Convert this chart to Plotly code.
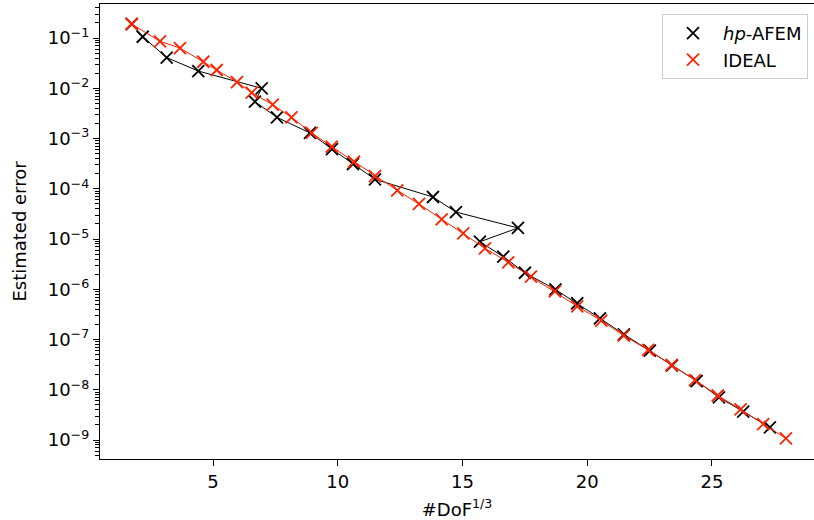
import plotly.graph_objects as go

# ---- data ----
hp_afem_x = [1.74, 2.18, 3.142, 4.409, 6.95, 6.681, 7.563, 8.886, 9.768, 10.609,
             11.491, 13.816, 14.737, 17.222, 15.699, 16.633, 17.503, 18.725, 19.599,
             20.509, 21.471, 22.513, 23.395, 24.385, 25.279, 26.253, 27.323]
hp_afem_err = [0.190, 0.106, 0.0409, 0.0220, 0.00997, 0.00540, 0.00264, 0.00129,
               6.18e-4, 3.11e-4, 1.54e-4, 6.86e-5, 3.44e-5, 1.66e-5, 8.83e-6,
               4.45e-6, 2.13e-6, 9.89e-7, 5.27e-7, 2.64e-7, 1.27e-7, 5.98e-8,
               3.04e-8, 1.49e-8, 7.08e-9, 3.66e-9, 1.79e-9]

ideal_x = [1.74, 2.874, 3.675, 4.609, 5.146, 5.96, 6.549, 7.391, 8.144, 8.954,
           9.755, 10.649, 11.491, 12.385, 13.255, 14.164, 15.03, 15.9, 16.834,
           17.743, 18.705, 19.599, 20.561, 21.463, 22.445, 23.383, 24.317, 25.23,
           26.148, 27.054, 27.964]
ideal_err = [0.190, 0.0860, 0.0632, 0.0337, 0.0231, 0.0133, 0.00815, 0.00471,
             0.00264, 0.00130, 6.87e-4, 3.45e-4, 1.79e-4, 9.31e-5, 4.98e-5,
             2.47e-5, 1.30e-5, 6.53e-6, 3.44e-6, 1.78e-6, 9.10e-7, 4.58e-7,
             2.38e-7, 1.20e-7, 6.18e-8, 3.11e-8, 1.56e-8, 7.69e-9, 4.08e-9,
             2.08e-9, 1.08e-9]

x_tick_vals = [5, 10, 15, 20, 25]
x_tick_text = ["5", "10", "15", "20", "25"]
y_exponents = [-1, -2, -3, -4, -5, -6, -7, -8, -9]
y_tick_vals = [10.0 ** e for e in y_exponents]
y_tick_text = ["10<sup>\u2212%d</sup>" % (-e) for e in y_exponents]
y_minor_vals = [k * 10.0 ** e for e in range(-10, 0) for k in range(2, 10)]

BLACK = "#000000"
RED = "#ff2200"
FONT = "DejaVu Sans"

fig = go.Figure()

# hp-AFEM: connecting line (not in legend) + markers
fig.add_trace(go.Scatter(x=hp_afem_x, y=hp_afem_err, mode="lines",
                         line=dict(color=BLACK, width=1), showlegend=False,
                         hoverinfo="skip"))
fig.add_trace(go.Scatter(x=hp_afem_x, y=hp_afem_err, mode="markers",
                         name="<i>hp</i>-AFEM",
                         marker=dict(symbol="x-thin", size=12, color=BLACK,
                                     line=dict(color=BLACK, width=1.8))))
# IDEAL: connecting line (not in legend) + markers
fig.add_trace(go.Scatter(x=ideal_x, y=ideal_err, mode="lines",
                         line=dict(color=RED, width=1), showlegend=False,
                         hoverinfo="skip"))
fig.add_trace(go.Scatter(x=ideal_x, y=ideal_err, mode="markers",
                         name="IDEAL",
                         marker=dict(symbol="x-thin", size=12, color=RED,
                                     line=dict(color=RED, width=1.8))))

fig.update_layout(
    width=814, height=520,
    margin=dict(l=100, r=0, t=4, b=61, pad=0),
    paper_bgcolor="white", plot_bgcolor="white",
    font=dict(family=FONT, size=18, color="black"),
    showlegend=True,
    legend=dict(x=0.9916, xanchor="right", y=0.978, yanchor="top",
                bgcolor="white", bordercolor="#cccccc", borderwidth=1,
                font=dict(family=FONT, size=18), itemwidth=50,
                tracegroupgap=0),
)

fig.update_xaxes(
    range=[0.469, 29.09],
    tickmode="array", tickvals=x_tick_vals, ticktext=x_tick_text,
    ticks="outside", ticklen=6, tickwidth=1.4, tickcolor="black",
    showline=True, linecolor="black", linewidth=1.4, mirror=True,
    showgrid=False, zeroline=False,
    title=dict(text="#DoF<sup>1/3</sup>", font=dict(size=18), standoff=13),
    automargin=False,
)
fig.update_yaxes(
    type="log", range=[-9.378, -0.323],
    tickmode="array", tickvals=y_tick_vals, ticktext=y_tick_text,
    ticks="outside", ticklen=6, tickwidth=1.4, tickcolor="black",
    minor=dict(tickmode="array", tickvals=y_minor_vals, ticks="outside",
               ticklen=3.5, tickwidth=1.1, tickcolor="black", showgrid=False),
    showline=True, linecolor="black", linewidth=1.4, mirror=False,
    showgrid=False, zeroline=False,
    title=dict(text="Estimated error", font=dict(size=18), standoff=16),
    automargin=False,
)

fig.write_html("out.html",
               config={"displayModeBar": False},
               post_script="document.body.style.margin='0px';"
                           "document.body.style.overflow='hidden';")
